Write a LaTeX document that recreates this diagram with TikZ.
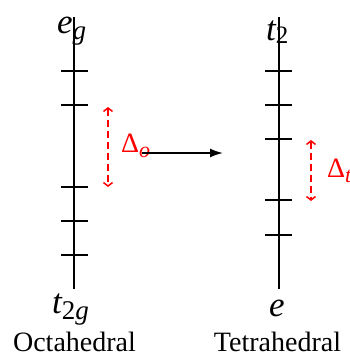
\documentclass[tikz,border=0pt]{standalone}
\usepackage{fontspec}
\setmainfont{Liberation Serif}
\usetikzlibrary{arrows.meta}
\newcommand{\mainsym}[1]{{\fontsize{35}{35}\selectfont\itshape #1}}
\newcommand{\subsym}[1]{\raisebox{-6pt}{\fontsize{27}{27}\selectfont #1}}
\tikzset{
  levelline/.style={line width=1.7pt, black},
  tickline/.style={line width=1.7pt, black},
  splitarrow/.style={red, line width=1.5pt, dash pattern=on 7pt off 4pt, {Straight Barb[length=3.5pt,width=9pt]}-{Straight Barb[length=3.5pt,width=9pt]}},
  mainarrow/.style={line width=1.7pt, black, -{Latex[length=13pt,width=9pt]}},
  lab/.style={inner sep=0pt, anchor=base west},
  captext/.style={inner sep=0pt, anchor=base, font=\fontsize{28}{30}\selectfont},
}
\begin{document}
\begin{tikzpicture}[x=1pt,y=-1pt]
\useasboundingbox (0,0) rectangle (350,356);
% vertical axes
\coordinate (ltop) at (74,17);
\coordinate (lbot) at (74,289);
\coordinate (rtop) at (279,17);
\coordinate (rbot) at (279,289);
\draw[levelline] (ltop) -- (lbot);
\draw[levelline] (rtop) -- (rbot);
% ticks
\foreach \y in {71,105,187,221,255} \draw[tickline] (61,\y) -- (88,\y);
\foreach \y in {71,105,139,200,235} \draw[tickline] (265,\y) -- (292,\y);
% labels
\node[lab] (eg) at (57,33) {\mainsym{e}\subsym{\itshape g}};
\node[lab] (t2) at (266,40) {\mainsym{t}\raisebox{-3pt}{\fontsize{25}{25}\selectfont 2}};
\node[lab] (t2g) at (52,313) {\mainsym{t}\subsym{2\itshape g}};
\node[lab] (e) at (269,316) {\mainsym{e}};
\node[captext] (oct) at (74.5,351) {Octahedral};
\node[captext] (tet) at (277.5,351) {Tetrahedral};
% splitting arrows
\coordinate (oa) at (108,107);
\coordinate (ob) at (108,187);
\coordinate (ta) at (311,140);
\coordinate (tb) at (311,201);
\draw[splitarrow] (oa) -- (ob);
\draw[splitarrow] (ta) -- (tb);
\node[lab, red] (delo) at (121,152) {{\fontsize{28}{28}\selectfont Δ}\raisebox{-5pt}{\fontsize{22}{22}\selectfont\itshape o}};
\node[lab, red] (delt) at (327,177) {{\fontsize{28}{28}\selectfont Δ}\raisebox{-5pt}{\fontsize{22}{22}\selectfont\itshape t}};
% main arrow
\coordinate (ma) at (142,153);
\coordinate (mb) at (223,153);
\draw[mainarrow] (ma) -- (mb);
\end{tikzpicture}
\end{document}
